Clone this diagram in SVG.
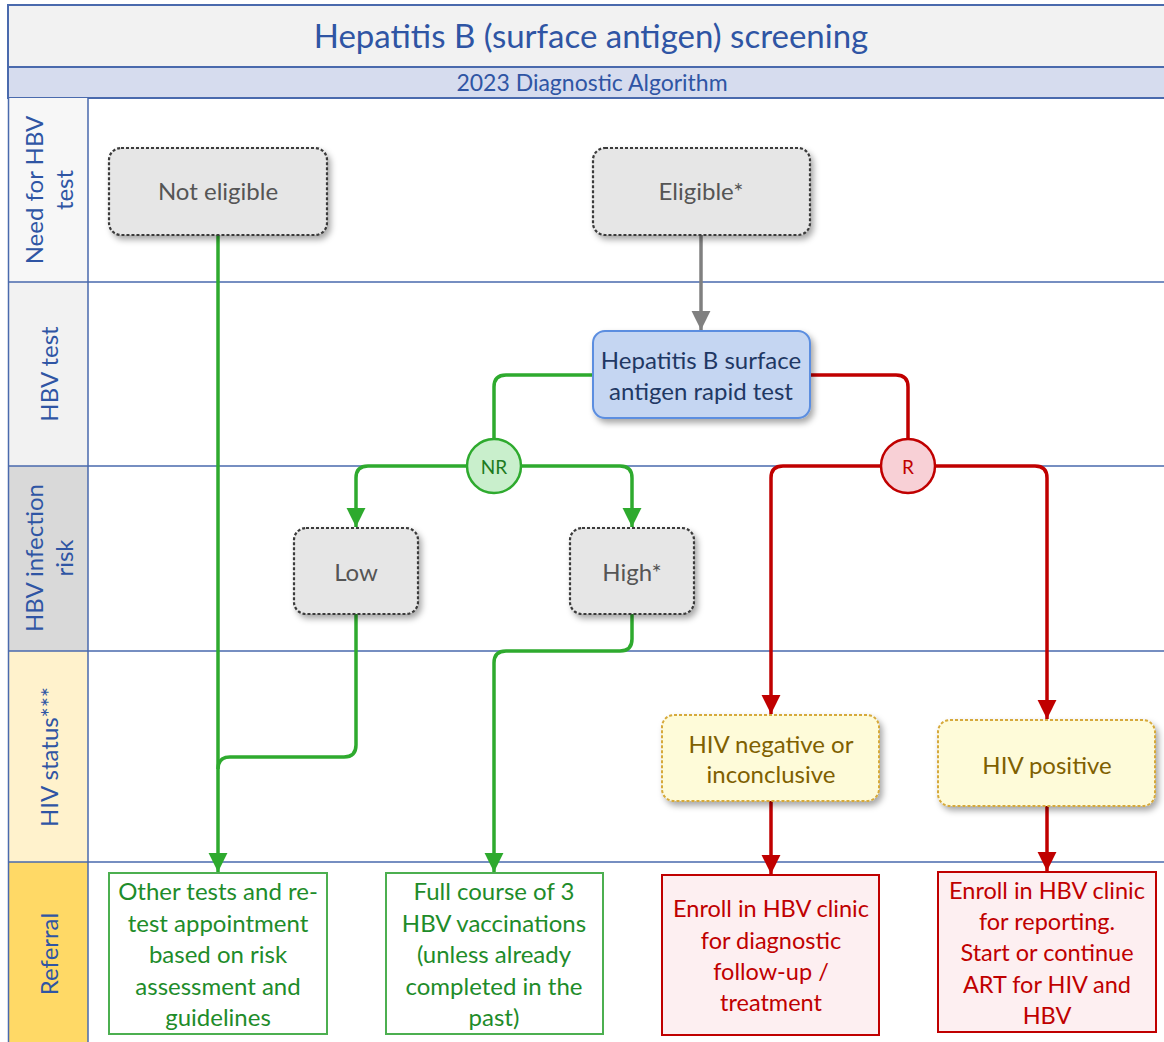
<svg xmlns="http://www.w3.org/2000/svg" width="1164" height="1042" viewBox="0 0 1164 1042">
<defs>
<style>
.t{font-family:Lato,"Liberation Sans",sans-serif;text-anchor:middle;dominant-baseline:central}
.lane{fill:none;stroke:#4a6aad;stroke-width:1.5}
.lbl{font-size:24px;fill:#2f55a4}
.grey rect{fill:#e6e6e6;stroke:#3a3a3a;stroke-width:2.2;stroke-dasharray:3 2}
.grey text{fill:#555;font-size:24px}
.yel rect{fill:#fefbd9;stroke:#d6a93a;stroke-width:2;stroke-dasharray:3 2}
.yel text{fill:#7f6000;font-size:24px}
.gref rect{fill:#fff;stroke:#4caf50;stroke-width:2}
.gref text{fill:#1e8c2a;font-size:24px}
.rref rect{fill:#fdeff1;stroke:#c00000;stroke-width:2}
.rref text{fill:#c00000;font-size:23.5px}
.g{fill:none;stroke:#2eaa2e;stroke-width:3.5}
.r{fill:none;stroke:#c00000;stroke-width:3.5}
.k{fill:none;stroke:#808080;stroke-width:3.5}
</style>
<filter id="sh" x="-20%" y="-20%" width="150%" height="160%">
<feDropShadow dx="3" dy="4" stdDeviation="3" flood-color="#000" flood-opacity="0.35"/>
</filter>
<marker id="ag" viewBox="0 0 10 10" refX="10" refY="5" markerWidth="5.4" markerHeight="5.6" orient="auto" markerUnits="strokeWidth"><path d="M0,0 L10,5 L0,10 z" fill="#2eaa2e"/></marker>
<marker id="ar" viewBox="0 0 10 10" refX="10" refY="5" markerWidth="5.4" markerHeight="5.6" orient="auto" markerUnits="strokeWidth"><path d="M0,0 L10,5 L0,10 z" fill="#c00000"/></marker>
<marker id="ak" viewBox="0 0 10 10" refX="10" refY="5" markerWidth="5.4" markerHeight="5.6" orient="auto" markerUnits="strokeWidth"><path d="M0,0 L10,5 L0,10 z" fill="#808080"/></marker>
</defs>
<rect width="1164" height="1042" fill="#fff"/>
<g id="header">
<rect x="8" y="5" width="1160" height="62" fill="#f2f2f2" stroke="#4a6aad" stroke-width="2"/>
<rect x="8" y="67" width="1160" height="31" fill="#d6dcee" stroke="#4a6aad" stroke-width="2"/>
<text class="t" x="591" y="35" font-size="33" fill="#2f55a4">Hepatitis B (surface antigen) screening</text>
<text class="t" x="592" y="82" font-size="23" fill="#2f55a4">2023 Diagnostic Algorithm</text>
</g>
<g id="lanes">
<rect x="8" y="98" width="80" height="184" fill="#f7f7f7"/>
<rect x="8" y="282" width="80" height="184" fill="#f2f2f2"/>
<rect x="8" y="466" width="80" height="185" fill="#d9d9d9"/>
<rect x="8" y="651" width="80" height="211" fill="#fff2cc"/>
<rect x="8" y="862" width="80" height="182" fill="#ffd966"/>
<path class="lane" d="M8.5,98 V1042 M88,98 V1042 M8,282 H1164 M8,466 H1164 M8,651 H1164 M8,862 H1164"/>
<text class="t lbl" transform="translate(48,190) rotate(-90)"><tspan x="0" y="-15">Need for HBV</tspan><tspan x="0" y="15">test</tspan></text>
<text class="t lbl" transform="translate(48,374) rotate(-90)" x="0" y="0">HBV test</text>
<text class="t lbl" transform="translate(48,558) rotate(-90)"><tspan x="0" y="-15">HBV infection</tspan><tspan x="0" y="15">risk</tspan></text>
<text class="t lbl" transform="translate(48,757) rotate(-90)" x="0" y="0">HIV status***</text>
<text class="t lbl" transform="translate(48,954) rotate(-90)" x="0" y="0" font-size="25">Referral</text>
</g>
<g id="connectors">
<path class="g" d="M218,235 V872" marker-end="url(#ag)"/>
<path class="g" d="M356,614 V745 Q356,757 344,757 H230 Q218,757 218,769"/>
<path class="k" d="M701,235 V330" marker-end="url(#ak)"/>
<path class="g" d="M593,375 H506 Q494,375 494,387 V439"/>
<path class="r" d="M810,375 H896 Q908,375 908,387 V439"/>
<path class="g" d="M467,466 H368 Q356,466 356,478 V527" marker-end="url(#ag)"/>
<path class="g" d="M521,466 H620 Q632,466 632,478 V527" marker-end="url(#ag)"/>
<path class="r" d="M881,466 H783 Q771,466 771,478 V714" marker-end="url(#ar)"/>
<path class="r" d="M935,466 H1035 Q1047,466 1047,478 V719" marker-end="url(#ar)"/>
<path class="g" d="M632,614 V639 Q632,651 620,651 H506 Q494,651 494,663 V872" marker-end="url(#ag)"/>
<path class="r" d="M771,801 V874" marker-end="url(#ar)"/>
<path class="r" d="M1047,806 V871" marker-end="url(#ar)"/>
</g>
<g id="not-eligible" class="grey"><rect x="109" y="148" width="218" height="87" rx="12" filter="url(#sh)"/><text class="t" x="218" y="190">Not eligible</text></g>
<g id="eligible" class="grey"><rect x="593" y="148" width="217" height="87" rx="12" filter="url(#sh)"/><text class="t" x="701" y="190">Eligible*</text></g>
<g id="rapid-test"><rect x="593" y="331" width="217" height="87" rx="12" fill="#c5d6f2" stroke="#5b8ee0" stroke-width="2" filter="url(#sh)"/><text class="t" x="701" y="359" font-size="24" fill="#1f3864">Hepatitis B surface</text><text class="t" x="701" y="390" font-size="24" fill="#1f3864">antigen rapid test</text></g>
<g id="nr"><circle cx="494" cy="466" r="27" fill="#c9efcc" stroke="#2eaa2e" stroke-width="2.5"/><text class="t" x="494" y="466" font-size="19" fill="#1e7b1e">NR</text></g>
<g id="r"><circle cx="908" cy="466" r="27" fill="#f8d0d6" stroke="#c00000" stroke-width="2.5"/><text class="t" x="908" y="466" font-size="19" fill="#c00000">R</text></g>
<g id="low" class="grey"><rect x="294" y="528" width="124" height="86" rx="12" filter="url(#sh)"/><text class="t" x="356" y="571">Low</text></g>
<g id="high" class="grey"><rect x="570" y="528" width="124" height="86" rx="12" filter="url(#sh)"/><text class="t" x="632" y="571">High*</text></g>
<g id="hiv-neg" class="yel"><rect x="662" y="715" width="217" height="86" rx="12" filter="url(#sh)"/><text class="t" x="771" y="743">HIV negative or</text><text class="t" x="771" y="773">inconclusive</text></g>
<g id="hiv-pos" class="yel"><rect x="938" y="720" width="217" height="86" rx="12" filter="url(#sh)"/><text class="t" x="1047" y="764">HIV positive</text></g>
<g id="other-tests" class="gref"><rect x="109" y="873" width="218" height="161"/><text class="t" x="218" y="890">Other tests and re-</text><text class="t" x="218" y="922">test appointment</text><text class="t" x="218" y="953">based on risk</text><text class="t" x="218" y="985">assessment and</text><text class="t" x="218" y="1016">guidelines</text></g>
<g id="vaccination" class="gref"><rect x="386" y="873" width="217" height="161"/><text class="t" x="494" y="890">Full course of 3</text><text class="t" x="494" y="922">HBV vaccinations</text><text class="t" x="494" y="953">(unless already</text><text class="t" x="494" y="985">completed in the</text><text class="t" x="494" y="1016">past)</text></g>
<g id="enroll-diag" class="rref"><rect x="662" y="875" width="217" height="160"/><text class="t" x="771" y="908">Enroll in HBV clinic</text><text class="t" x="771" y="940">for diagnostic</text><text class="t" x="771" y="971">follow-up /</text><text class="t" x="771" y="1002">treatment</text></g>
<g id="enroll-report" class="rref"><rect x="938" y="872" width="218" height="160"/><text class="t" x="1047" y="890">Enroll in HBV clinic</text><text class="t" x="1047" y="921">for reporting.</text><text class="t" x="1047" y="952">Start or continue</text><text class="t" x="1047" y="984">ART for HIV and</text><text class="t" x="1047" y="1015">HBV</text></g>
</svg>
